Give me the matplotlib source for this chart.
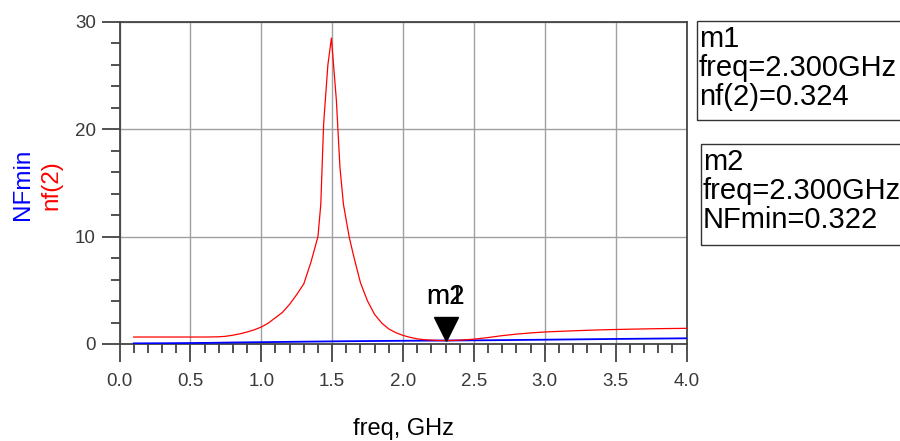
import matplotlib
matplotlib.use("Agg")
import matplotlib.pyplot as plt
from matplotlib.patches import Rectangle
from matplotlib.ticker import MultipleLocator
import matplotlib.transforms as mtransforms

# ---- data ----
freq_nf = [0.10, 0.20, 0.30, 0.40, 0.50, 0.60, 0.70, 0.75, 0.80, 0.85, 0.90, 0.95,
           1.00, 1.05, 1.10, 1.15, 1.20, 1.25, 1.30, 1.35, 1.40, 1.42, 1.44, 1.47,
           1.495, 1.53, 1.555, 1.58, 1.62, 1.65, 1.70, 1.75, 1.80, 1.85, 1.90, 1.95,
           2.00, 2.05, 2.10, 2.15, 2.20, 2.25, 2.30, 2.35, 2.40, 2.50, 2.60, 2.70,
           2.80, 2.90, 3.00, 3.20, 3.40, 3.60, 3.80, 4.00]
nf2 = [0.65, 0.65, 0.65, 0.65, 0.65, 0.65, 0.67, 0.72, 0.82, 0.95, 1.12, 1.32,
       1.58, 1.95, 2.45, 2.95, 3.70, 4.60, 5.60, 7.60, 10.0, 13.0, 20.5, 26.0,
       28.5, 22.7, 16.5, 13.0, 10.0, 8.3, 5.7, 4.0, 2.75, 1.95, 1.40, 1.05,
       0.80, 0.62, 0.48, 0.40, 0.36, 0.33, 0.324, 0.33, 0.36, 0.45, 0.60, 0.78,
       0.92, 1.03, 1.12, 1.23, 1.32, 1.38, 1.43, 1.46]

freq_nfmin = [0.1, 0.3, 0.5, 0.65, 0.8, 1.0, 1.2, 1.4, 1.6, 1.8, 2.0, 2.3, 2.6, 3.0, 3.5, 4.0]
nfmin = [0.06, 0.07, 0.09, 0.11, 0.14, 0.17, 0.20, 0.23, 0.26, 0.28, 0.30, 0.322, 0.35, 0.40, 0.47, 0.53]

marker_freq = 2.3
marker_nf = 0.324
marker_nfmin = 0.322

xticks = [0.0, 0.5, 1.0, 1.5, 2.0, 2.5, 3.0, 3.5, 4.0]
xticklabels = ["0.0", "0.5", "1.0", "1.5", "2.0", "2.5", "3.0", "3.5", "4.0"]
yticks = [0, 10, 20, 30]
yticklabels = ["0", "10", "20", "30"]

m1_lines = ["m1", "freq=2.300GHz", "nf(2)=0.324"]
m2_lines = ["m2", "freq=2.300GHz", "NFmin=0.322"]

plt.rcParams['font.family'] = ['Liberation Sans', 'DejaVu Sans']

W, H = 900, 441
fig = plt.figure(figsize=(W / 100, H / 100), dpi=100)
fig.patch.set_facecolor('white')

x0, x1 = 119.5, 686.5
y_top, y_bot = 22, 344
ax = fig.add_axes([x0 / W, 1 - y_bot / H, (x1 - x0) / W, (y_bot - y_top) / H])
ax.set_facecolor('white')
ax.set_xlim(0, 4)
ax.set_ylim(0, 30)

for s in ax.spines.values():
    s.set_color('#444444')
    s.set_linewidth(1.3)

ax.set_xticks(xticks)
ax.set_xticklabels(xticklabels)
ax.set_yticks(yticks)
ax.set_yticklabels(yticklabels)
ax.xaxis.set_minor_locator(MultipleLocator(0.1))
ax.yaxis.set_minor_locator(MultipleLocator(2))
ax.tick_params(axis='both', which='major', direction='out', length=13, width=1.2,
               color='#333333', labelsize=13.5, labelcolor='#3a3a3a')
ax.tick_params(axis='x', which='major', pad=8)
ax.tick_params(axis='y', which='major', pad=4)
ax.tick_params(axis='both', which='minor', direction='out', length=6.5, width=1.2,
               color='#333333')
ax.grid(True, which='major', color='#a0a0a0', linewidth=1.0)
ax.set_axisbelow(True)

ax.plot(freq_nfmin, nfmin, color='#0000ff', linewidth=1.3, zorder=3)
ax.plot(freq_nf, nf2, color='#ff0000', linewidth=0.9, zorder=4)

# marker triangle (tip on the data point)
off = mtransforms.ScaledTranslation(0, 11.5 / 100, fig.dpi_scale_trans)
ax.plot([marker_freq], [marker_nf], marker='v', markersize=17, color='black',
        linestyle='none', transform=ax.transData + off, zorder=6, clip_on=False)
for lab in ["m2", "m1"]:
    ax.annotate(lab, xy=(marker_freq, marker_nf), xytext=(0, 22), textcoords='offset points',
                ha='center', va='bottom', fontsize=20, color='black', zorder=7)

# axis labels
fig.text(23 / W, 1 - 184 / H, "NFmin", rotation=90, color='#0000ff', fontsize=17.5,
         ha='center', va='center')
fig.text(51 / W, 1 - 185 / H, "nf(2)", rotation=90, color='#ff0000', fontsize=17.5,
         ha='center', va='center')
ax.set_xlabel("freq, GHz", fontsize=17, color='black', labelpad=20)

# marker readout boxes
def box(left, top, bottom, lines):
    r = Rectangle((left / W, 1 - bottom / H), (W + 20 - left) / W, (bottom - top) / H,
                  transform=fig.transFigure, fill=False, edgecolor='#333333',
                  linewidth=1.0, clip_on=False)
    fig.patches.append(r)
    fig.text((left + 2) / W, 1 - (top + 4) / H, "\n".join(lines), fontsize=21,
             ha='left', va='top', linespacing=1.05, color='black')

box(697, 21, 120, m1_lines)
box(701, 144, 245, m2_lines)

fig.savefig("out.png", dpi=100)
